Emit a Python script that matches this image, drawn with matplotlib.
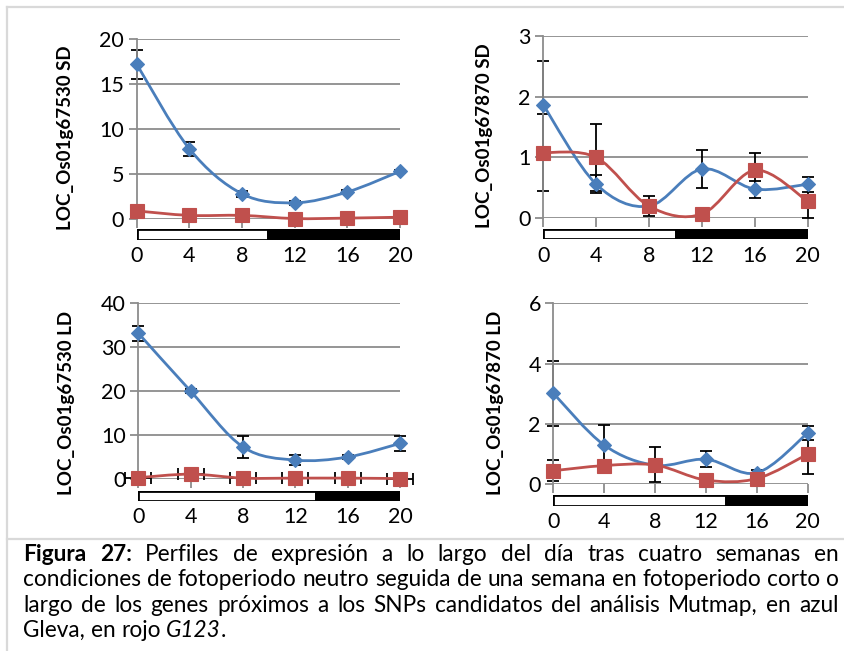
import numpy as np
import matplotlib
matplotlib.use('Agg')
import matplotlib.pyplot as plt
from matplotlib.path import Path
from matplotlib.patches import PathPatch
from matplotlib.lines import Line2D

plt.rcParams['font.family'] = ['Lato', 'DejaVu Sans']

W, H = 844, 651

# ---- data -------------------------------------------------------------
hours = [0, 4, 8, 12, 16, 20]

# LOC_Os01g67530, short day
sd530_gleva = [17.2, 7.8, 2.8, 1.8, 3.0, 5.3]
sd530_gleva_err = [1.6, 0.8, 0.3, 0.2, 0.2, 0.2]
sd530_g123 = [0.9, 0.4, 0.4, 0.05, 0.1, 0.2]
sd530_g123_err = [0.1, 0.1, 0.1, 0.05, 0.05, 0.1]

# LOC_Os01g67870, short day
sd870_gleva = [1.86, 0.56, 0.2, 0.81, 0.48, 0.56]
sd870_gleva_err = [0.72, 0.15, 0.1, 0.32, 0.14, 0.12]
sd870_g123 = [1.08, 1.0, 0.2, 0.07, 0.79, 0.28]
sd870_g123_err = [0.63, 0.55, 0.17, 0.05, 0.29, 0.27]

# LOC_Os01g67530, long day
ld530_gleva = [33.2, 20.0, 7.3, 4.3, 5.0, 8.1]
ld530_gleva_err = [1.7, 0.5, 2.6, 1.1, 0.4, 1.8]
ld530_g123 = [0.3, 1.1, 0.2, 0.2, 0.2, 0.1]
ld530_g123_xerr = [1, 1, 1, 1, 1, 1]

# LOC_Os01g67870, long day
ld870_gleva = [3.02, 1.30, 0.63, 0.83, 0.38, 1.70]
ld870_gleva_err = [1.08, 0.68, 0.1, 0.27, 0.1, 0.24]
ld870_g123 = [0.45, 0.62, 0.64, 0.14, 0.19, 1.0]
ld870_g123_err = [0.35, 0.1, 0.58, 0.05, 0.05, 0.67]

# hours of light in each photoperiod
light_sd = 10
light_ld = 13.6

BLUE = '#4a7ebb'
RED = '#c0504d'
GRID = '#8c8c8c'


def px_axes(x0, x1, y_top, y_bot):
    """axes rectangle from pixel coordinates (origin top-left)"""
    return fig.add_axes([x0 / W, 1 - y_bot / H, (x1 - x0) / W, (y_bot - y_top) / H])


def smooth_path(xs, ys):
    # Catmull-Rom style bezier through the points (Excel smoothed line)
    pts = np.column_stack([xs, ys]).astype(float)
    n = len(pts)
    verts = [pts[0]]
    codes = [Path.MOVETO]
    for i in range(n - 1):
        p0 = pts[i - 1] if i > 0 else pts[i]
        p1, p2 = pts[i], pts[i + 1]
        p3 = pts[i + 2] if i + 2 < n else pts[i + 1]
        verts += [p1 + (p2 - p0) / 6, p2 - (p3 - p1) / 6, p2]
        codes += [Path.CURVE4] * 3
    return Path(verts, codes)


def series(ax, y, yerr, color, marker, ms, z, xerr=None):
    ax.errorbar(hours, y, yerr=yerr, xerr=xerr, fmt='none', ecolor='black',
                elinewidth=1.3, capsize=4.5, capthick=1.3, zorder=2, clip_on=False)
    ax.add_patch(PathPatch(smooth_path(hours, y), fill=False, edgecolor=color,
                           lw=2.0, zorder=3, clip_on=False))
    ax.plot(hours, y, ls='none', marker=marker, ms=ms, mfc=color, mec=color,
            mew=0.8, zorder=z, clip_on=False)


def panel(box, ymax, ystep, blue, blue_err, red, red_err, light, bar_box,
          red_xerr=None):
    ax = px_axes(*box)
    ax.set_xlim(0, 20)
    ax.set_ylim(0, ymax)
    ax.set_yticks(np.arange(0, ymax + ystep / 2, ystep))
    ax.set_xticks(hours)
    ax.set_xticklabels([])
    ax.grid(axis='y', color=GRID, lw=1.3)
    ax.set_axisbelow(True)
    for s in ['top', 'right', 'bottom']:
        ax.spines[s].set_visible(False)
    ax.spines['left'].set_color(GRID)
    ax.spines['left'].set_linewidth(1.3)
    ax.tick_params(axis='y', length=6, width=1.3, color=GRID, labelsize=15.5, pad=3)
    ax.tick_params(axis='x', length=6.5, width=1.3, color=GRID)

    series(ax, blue, blue_err, BLUE, 'D', 7.6, 4)
    if red_xerr is not None:
        series(ax, red, None, RED, 's', 10.5, 5, xerr=red_xerr)
    else:
        series(ax, red, red_err, RED, 's', 10.5, 5)

    # light / dark bar under the axis
    bx = px_axes(*bar_box)
    bx.set_xlim(0, 20)
    bx.set_ylim(0, 1)
    bx.barh(0.5, light, left=0, height=1, color='white', edgecolor='black', lw=2)
    bx.barh(0.5, 20 - light, left=light, height=1, color='black', edgecolor='black', lw=2)
    bx.set_xticks(hours)
    bx.set_xticklabels([str(h) for h in hours])
    bx.tick_params(axis='x', length=0, labelsize=15.5, pad=5)
    bx.set_yticks([])
    for s in bx.spines.values():
        s.set_visible(False)
    return ax


fig = plt.figure(figsize=(W / 100, H / 100), dpi=100)

panel((136.7, 400, 39, 219), 20, 5, sd530_gleva, sd530_gleva_err,
      sd530_g123, sd530_g123_err, light_sd, (136.7, 400, 229, 239.5))
panel((543.3, 807.7, 35.7, 218.3), 3, 1, sd870_gleva, sd870_gleva_err,
      sd870_g123, sd870_g123_err, light_sd, (543.3, 807.7, 229, 239))
panel((138.3, 400, 303.3, 479), 40, 10, ld530_gleva, ld530_gleva_err,
      ld530_g123, None, light_ld, (138.3, 400, 491, 500.5),
      red_xerr=ld530_g123_xerr)
panel((553.3, 807.7, 303.3, 484.3), 6, 2, ld870_gleva, ld870_gleva_err,
      ld870_g123, ld870_g123_err, light_ld, (553.3, 807.7, 495, 505.5))

ylabels = [('LOC_Os01g67530 SD', 66, 138), ('LOC_Os01g67870 SD', 484.5, 136),
           ('LOC_Os01g67530 LD', 66.7, 402.5), ('LOC_Os01g67870 LD', 495, 402.5)]
for txt, x, y in ylabels:
    fig.text(x / W, 1 - y / H, txt, rotation=90, ha='center', va='center',
             fontsize=13.5, fontweight='bold')

# frame lines
for xs, ys in [([7, 7], [7, H]), ([7, W], [7, 7]), ([7, W], [539, 539])]:
    fig.add_artist(Line2D([x / W for x in xs], [1 - y / H for y in ys],
                          color='#d9d9d9', lw=1.6))

# ---- caption (justified) ---------------------------------------------
B, N, I = 'bold', 'normal', 'italic'
cap_lines = [
    [('Figura', B), ('27:', B)] + [(w, N) for w in
        'Perfiles de expresión a lo largo del día tras cuatro semanas en'.split()],
    [(w, N) for w in
        'condiciones de fotoperiodo neutro seguida de una semana en fotoperiodo corto o'.split()],
    [(w, N) for w in
        'largo de los genes próximos a los SNPs candidatos del análisis Mutmap, en azul'.split()],
    [('Gleva,', N), ('en', N), ('rojo', N), ('G123', I)],
]
baselines = [561, 586.3, 611.6, 637]
left_px, right_px = 23, 839
cap_size = 16.3

renderer = fig.canvas.get_renderer()


def word_text(x, y, w, style):
    kw = dict(fontsize=cap_size, va='baseline', ha='left')
    if style == B:
        kw['fontweight'] = 'bold'
    elif style == I:
        kw['fontstyle'] = 'italic'
    return fig.text(x / W, 1 - y / H, w, **kw)


def width_px(t):
    return t.get_window_extent(renderer).width


probe = fig.text(0, 0, 'x x', fontsize=cap_size)
probe2 = fig.text(0, 0, 'xx', fontsize=cap_size)
space = width_px(probe) - width_px(probe2)
probe.remove()
probe2.remove()

for li, (words, base) in enumerate(zip(cap_lines, baselines)):
    texts = [word_text(0, base, w, st) for w, st in words]
    widths = [width_px(t) for t in texts]
    last = li == len(cap_lines) - 1
    gap = space if last else (right_px - left_px - sum(widths)) / (len(texts) - 1)
    x = left_px
    for t, wd in zip(texts, widths):
        t.set_x(x / W)
        x += wd + gap
    if last:
        # full stop straight after the italic name
        word_text(x - gap, base, '.', N)

fig.savefig('out.png', dpi=100)
